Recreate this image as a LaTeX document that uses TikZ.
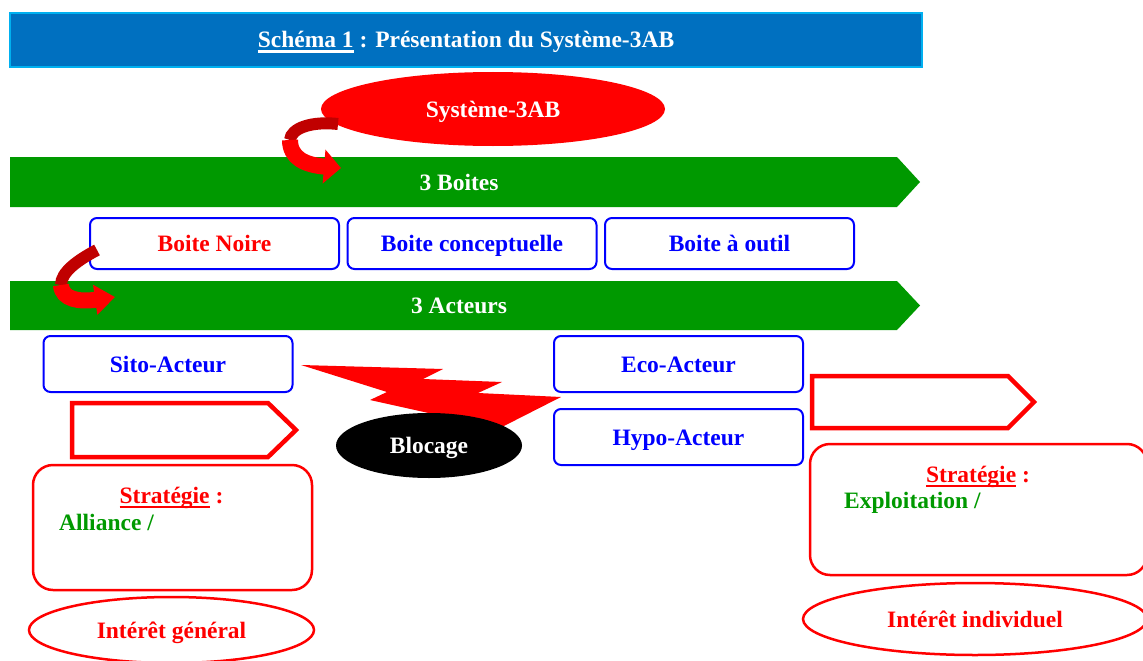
\documentclass[tikz,border=0pt]{standalone}
\usepackage{fontspec}
\setmainfont{Liberation Serif}
\usetikzlibrary{arrows.meta,shapes.geometric}
\definecolor{bleutitre}{RGB}{0,112,192}
\definecolor{cyantitre}{RGB}{0,176,240}
\definecolor{vertbande}{RGB}{0,153,0}
\definecolor{rougefonce}{RGB}{192,0,0}
\newcommand{\souligne}[1]{\leavevmode\setbox0\hbox{#1}\rlap{\vrule height -2.5pt depth 5pt width \wd0}\box0\relax}

\begin{document}
\begin{tikzpicture}[x=1pt,y=-1pt]
\tikzstyle{texte}=[font=\fontsize{23.5}{28}\selectfont\bfseries]
\tikzstyle{ligne}=[text height=16pt,text depth=0pt]
\tikzstyle{boite}=[texte,ligne,draw=blue,line width=2pt,rounded corners=7pt,fill=white,minimum width=249pt,minimum height=51pt,text=blue]
\tikzstyle{bande}=[fill=vertbande]
\tikzstyle{fleche}=[draw=red,line width=4.5pt,line join=miter]
\tikzstyle{cadre}=[draw=red,line width=2.5pt,rounded corners=20pt]
\tikzstyle{interet}=[texte,ellipse,draw=red,line width=2.5pt,text=red,inner sep=0pt]
\useasboundingbox (0,0) rectangle (1143,661);

\node [texte,ligne,fill=bleutitre,draw=cyantitre,line width=1.5pt,minimum width=912pt,minimum height=54pt,text=white] (titre) at (466,40) {\souligne{Schéma 1} : Présentation du Système-3AB};
\node [texte,ligne,ellipse,fill=red,minimum width=344pt,minimum height=74pt,text=white,inner sep=0pt] (sys) at (493,109) {Système-3AB};

% bande 3 Boites
\fill [bande] (10,157) -- (897,157) -- (920,182) -- (897,207) -- (10,207) -- cycle;
\node [texte,ligne,text=white] (boites) at (459,182) {3 Boites};
\node [boite,text=red] (noire) at (214.5,243.5) {Boite Noire};
\node [boite] (concept) at (472,243.5) {Boite conceptuelle};
\node [boite] (outil) at (729.5,243.5) {Boite à outil};

% bande 3 Acteurs
\fill [bande] (10,281) -- (897,281) -- (920,305.5) -- (897,330) -- (10,330) -- cycle;
\node [texte,ligne,text=white] (acteurs) at (459,305.5) {3 Acteurs};

% eclair
\fill [red] (301,365) -- (443,369) -- (423,379) -- (502,382) -- (478,393) -- (561,397) -- (500,428) -- (460,420) -- (370,400) -- (387,392) -- cycle;

\node [boite,minimum height=56pt] (sito) at (168,364) {Sito-Acteur};
\node [boite,minimum height=56pt] (eco) at (678.5,364) {Eco-Acteur};
\node [boite,minimum height=56pt] (hypo) at (678.5,437) {Hypo-Acteur};
\node [texte,ligne,ellipse,fill=black,text=white,minimum width=186pt,minimum height=65pt,inner sep=0pt] (blocage) at (429,445.5) {Blocage};

\draw [fleche] (72,403) -- (268,403) -- (296,430) -- (268,457) -- (72,457) -- cycle;
\draw [fleche] (812,376) -- (1008,376) -- (1034,402) -- (1008,428) -- (812,428) -- cycle;

% strategies
\node [cadre,minimum width=279pt,minimum height=125pt] (stratg) at (172.5,527.5) {};
\node [cadre,minimum width=337pt,minimum height=131pt] (stratd) at (978.5,509.5) {};
\node [texte,text=red,anchor=base,inner sep=0pt] (sg) at (171.5,503) {\souligne{Stratégie} :};
\node [texte,text=vertbande,anchor=base west,inner sep=0pt] (alliance) at (59,530) {Alliance /};
\node [texte,text=red,anchor=base,inner sep=0pt] (sd) at (978,482) {\souligne{Stratégie} :};
\node [texte,text=vertbande,anchor=base west,inner sep=0pt] (exploit) at (844,508) {Exploitation /};
\node [interet,ligne,minimum width=285pt,minimum height=66pt] (general) at (171.5,630) {Intérêt général};
\node [interet,ligne,minimum width=344pt,minimum height=72pt] (individuel) at (975,619) {Intérêt individuel};

% fleches courbes
\draw [rougefonce,line width=12pt] (338,124) .. controls (312,121) and (291,128) .. (290,140);
\draw [red,line width=16pt,-{Triangle[length=17pt,width=33pt]}] (290,140) .. controls (290,158) and (305,165) .. (341,168);
\draw [rougefonce,line width=12pt] (97,250) .. controls (78,260) and (61,272) .. (61,285);
\draw [red,line width=16pt,-{Triangle[length=20pt,width=29pt]}] (61,285) .. controls (62,300) and (80,302) .. (115,297);
\end{tikzpicture}
\end{document}
